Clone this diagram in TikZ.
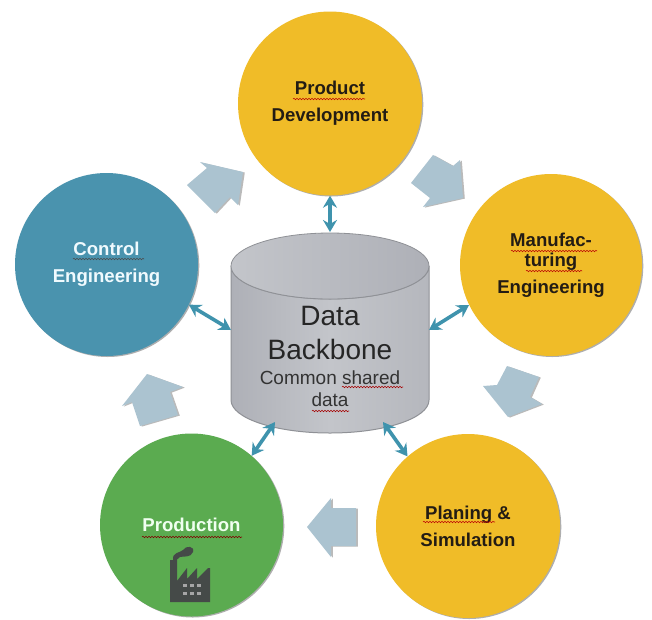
\documentclass[tikz,border=0pt]{standalone}
\usepackage{fontspec}
\setmainfont{Liberation Sans}
\usetikzlibrary{arrows.meta,shadows,decorations.pathmorphing,calc}
\definecolor{sun}{HTML}{F0BC28}
\definecolor{tealc}{HTML}{4A93AE}
\definecolor{greenc}{HTML}{5BAB50}
\definecolor{flow}{HTML}{ABC3D0}
\definecolor{link}{HTML}{3F93AD}
\definecolor{inkd}{HTML}{231C14}
\definecolor{fact}{HTML}{454A48}
\definecolor{cylA}{HTML}{AEB0B7}
\definecolor{cylB}{HTML}{C3C5CA}
\definecolor{cylC}{HTML}{B5B7BD}
\definecolor{cylE}{HTML}{8F9196}
\tikzset{
  bub/.style={circle,inner sep=0pt,minimum size=#1,align=center,
    font=\fontsize{18.6}{27}\selectfont\bfseries,
    drop shadow={shadow xshift=1.3pt,shadow yshift=-1pt,opacity=.45,fill=black!70}},
  flowarrow/.style={fill=flow,drop shadow={shadow xshift=1.8pt,shadow yshift=-.6pt,opacity=.45,fill=black!60}},
  linkarrow/.style={draw=link,line width=3.6pt,{Stealth[length=12pt,width=14pt,inset=4pt]}-{Stealth[length=12pt,width=14pt,inset=4pt]}},
  squig/.style={decorate,decoration={snake,amplitude=.7pt,segment length=3pt},line width=.55pt,draw=#1},
  squig/.default={red!65!black}
}
\begin{document}
\begin{tikzpicture}[x=1pt,y=-1pt]
\useasboundingbox (0,0) rectangle (652,619);
\fill[white] (0,0) rectangle (652,619);

% circles
\node[bub=184pt,fill=sun,text=inkd] (prod) at (330,103.5) {Product\\Development};
\node[bub=182pt,fill=sun,text=inkd] (manu) at (551,265) {Manufac-\\[-7pt]turing\\Engineering};
\node[bub=184pt,fill=sun,text=inkd] (plan) at (468,526) {Planing \&\\Simulation};
\node[bub=183pt,fill=greenc,text=green!6] (pdn) at (191.5,525) {Production};
\node[bub=183pt,fill=tealc,text=cyan!6] (ctrl) at (106.5,264.5) {Control\\Engineering};

% cylinder
\path[left color=cylA,right color=cylC,middle color=cylB,draw=cylE,line width=1pt]
  (231,266) -- (231,400) arc[start angle=180,end angle=0,x radius=99,y radius=33] -- (429,266)
  arc[start angle=0,end angle=180,x radius=99,y radius=33] -- cycle;
\path[left color=cylB,right color=cylA,draw=cylE,line width=.8pt]
  (330,266) ellipse[x radius=99,y radius=33];
\coordinate (dbN) at (330,232);
\coordinate (dbW) at (231,330);
\coordinate (dbE) at (429,330);
\coordinate (dbSW) at (275,422);
\coordinate (dbSE) at (383,422);
\node[align=center,inner sep=0pt,text=black!85,font=\fontsize{28}{34}\selectfont] (dbt) at (330,333) {Data\\Backbone};
\node[align=center,inner sep=0pt,text=black!80,font=\fontsize{19}{22}\selectfont] (dbs) at (330,389) {Common shared\\data};

% flow arrows
\path[flowarrow] (187,185)--(207,168)--(200,162)--(243,172)--(238,205)--(230,197)--(215,213)--cycle;
\path[flowarrow] (411,183)--(433,155)--(453,166)--(460,160)--(463,198)--(423,207)--(430,198)--cycle;
\path[flowarrow] (507,366)--(539,377)--(530,397)--(542,404)--(508,417)--(483,386)--(497,385)--cycle;
\path[flowarrow] (307,527)--(331,498)--(331,508)--(356,508)--(356,546)--(331,546)--(331,557)--cycle;
\path[flowarrow] (122,406)--(147,374)--(183,387)--(170,392)--(178,415)--(140,426)--(132,402)--cycle;

% links
\draw[linkarrow] (prod.south) -- (dbN);
\draw[linkarrow] (ctrl.-26.4) -- (dbW);
\draw[linkarrow] (manu.206.8) -- (dbE);
\draw[linkarrow] (plan.131.3) -- (dbSE);
\draw[linkarrow] (pdn.49.4) -- (dbSW);

% spell-check squiggles
\draw[squig=red!70!inkd] (293,99) -- (365,99);
\draw[squig=red!70!inkd] (511,251) -- (597,251);
\draw[squig=red!70!inkd] (526,271) -- (582,271);
\draw[squig=black!70] (73,259) -- (144,259);
\draw[squig=red!70!inkd] (423,522) -- (495,522);
\draw[squig=red!50!black] (142,537) -- (242,537);
\draw[squig] (342,387) -- (403,387);
\draw[squig] (312,411) -- (349,411);

% factory icon
\fill[fact] (170,602) -- (170,560) -- (177,560) -- (177,581) -- (187,568) -- (187,579)
  -- (197,568) -- (197,579) -- (208,568) -- (210,568) -- (210,602) -- cycle;
\fill[fact] (173,560) .. controls (172,552) and (180,553) .. (183,550)
  .. controls (186,545) and (195,546) .. (193,552) .. controls (191,558) and (183,556) .. (180,557)
  .. controls (178,559) and (175,562) .. (173,560) -- cycle;
\foreach \wx in {183,190,197}
  \foreach \wy in {584,592}
    \fill[black!35] (\wx,\wy) rectangle ++(4,3);
\end{tikzpicture}
\end{document}
